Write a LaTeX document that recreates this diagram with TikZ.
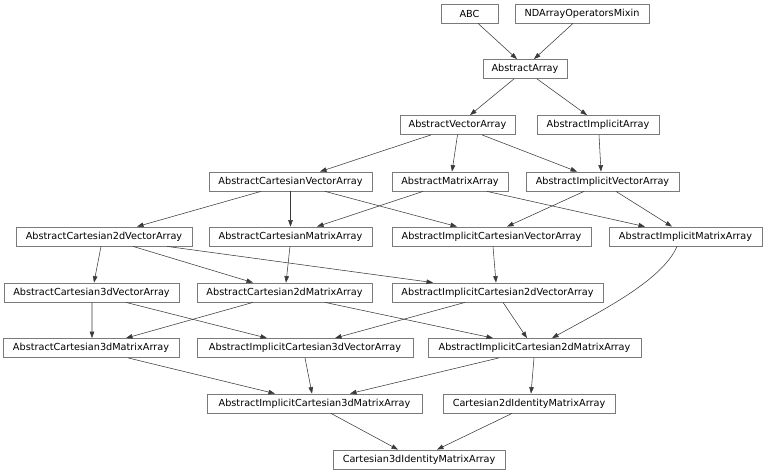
\documentclass[tikz,border=0pt]{standalone}
\usepackage{fontspec}
\setmainfont{DejaVu Sans}
\usetikzlibrary{arrows.meta}
\definecolor{boxgray}{HTML}{7A7A7A}
\definecolor{edgegray}{HTML}{3A3A3A}
\tikzset{
  cls/.style={draw=boxgray, line width=0.8bp, fill=white, inner sep=0pt, minimum height=19bp,
    font=\fontsize{9.7bp}{10bp}\selectfont, text=black},
  inh/.style={draw=edgegray, line width=0.55bp, -{Triangle[length=6.5bp,width=4.6bp]}},
}
\begin{document}
\begin{tikzpicture}[x=1bp,y=-1bp]
\useasboundingbox (0,0) rectangle (768,473);
% nodes
\node[cls, minimum width=57bp]  (abc)    at (469.5,13.5) {ABC};
\node[cls, minimum width=134bp] (ndm)    at (582,13.5)   {NDArrayOperatorsMixin};
\node[cls, minimum width=84bp]  (aa)     at (525,69)     {AbstractArray};
\node[cls, minimum width=115bp] (ava)    at (457.5,125)  {AbstractVectorArray};
\node[cls, minimum width=122bp] (aia)    at (598,125)    {AbstractImplicitArray};
\node[cls, minimum width=163bp] (acva)   at (290.5,181.5) {AbstractCartesianVectorArray};
\node[cls, minimum width=116bp] (ama)    at (450,181.5)  {AbstractMatrixArray};
\node[cls, minimum width=153bp] (aiva)   at (602.5,181.5) {AbstractImplicitVectorArray};
\node[cls, minimum width=176bp] (ac2va)  at (104,236.5)  {AbstractCartesian2dVectorArray};
\node[cls, minimum width=163bp] (acma)   at (290.5,236.5) {AbstractCartesianMatrixArray};
\node[cls, minimum width=199bp] (aicva)  at (491.5,236.5) {AbstractImplicitCartesianVectorArray};
\node[cls, minimum width=153bp] (aima)   at (685.5,236.5) {AbstractImplicitMatrixArray};
\node[cls, minimum width=175bp] (ac3va)  at (91.5,292.5) {AbstractCartesian3dVectorArray};
\node[cls, minimum width=175bp] (ac2ma)  at (284.5,292.5) {AbstractCartesian2dMatrixArray};
\node[cls, minimum width=211bp] (aic2va) at (497.5,292.5) {AbstractImplicitCartesian2dVectorArray};
\node[cls, minimum width=176bp] (ac3ma)  at (91,348)     {AbstractCartesian3dMatrixArray};
\node[cls, minimum width=216bp] (aic3va) at (305,348)    {AbstractImplicitCartesian3dVectorArray};
\node[cls, minimum width=213bp] (aic2ma) at (534.5,348)  {AbstractImplicitCartesian2dMatrixArray};
\node[cls, minimum width=215bp] (aic3ma) at (314.5,403.5) {AbstractImplicitCartesian3dMatrixArray};
\node[cls, minimum width=172bp] (c2ima)  at (529,403.5)  {Cartesian2dIdentityMatrixArray};
\node[cls, minimum width=172bp] (c3ima)  at (419,459.5)  {Cartesian3dIdentityMatrixArray};
% edges
\draw[inh] ([xshift=8.5bp]abc.south) -- ([xshift=-8bp]aa.north);
\draw[inh] ([xshift=-9bp]ndm.south) -- ([xshift=9bp]aa.north);
\draw[inh] ([xshift=-11bp]aa.south) -- ([xshift=12.5bp]ava.north);
\draw[inh] ([xshift=12bp]aa.south) -- ([xshift=-11bp]aia.north);
\draw[inh] ([xshift=-26.5bp]ava.south) -- ([xshift=29.5bp]acva.north);
\draw[inh] ([xshift=0bp]ava.south) -- ([xshift=2bp]ama.north);
\draw[inh] ([xshift=24.5bp]ava.south) -- ([xshift=-25.5bp]aiva.north);
\draw[inh] ([xshift=1bp]aia.south) -- ([xshift=-1.5bp]aiva.north);
\draw[inh] ([xshift=-29.5bp]acva.south) -- ([xshift=33bp]ac2va.north);
\draw[inh] (acva.south) -- (acma.north);
\draw[inh] ([xshift=34.5bp]acva.south) -- ([xshift=-34.5bp]aicva.north);
\draw[inh] ([xshift=-27bp]ama.south) -- ([xshift=26.5bp]acma.north);
\draw[inh] ([xshift=37bp]ama.south) -- ([xshift=-40.5bp]aima.north);
\draw[inh] ([xshift=-18.5bp]aiva.south) -- ([xshift=15.5bp]aicva.north);
\draw[inh] ([xshift=13.5bp]aiva.south) -- ([xshift=-13.5bp]aima.north);
\draw[inh] ([xshift=-3bp]ac2va.south) -- ([xshift=2.5bp]ac3va.north);
\draw[inh] ([xshift=29bp]ac2va.south) -- ([xshift=-31.5bp]ac2ma.north);
\draw[inh] ([xshift=63bp]ac2va.south) -- ([xshift=-64.5bp]aic2va.north);
\draw[inh] ([xshift=-0.5bp]acma.south) -- ([xshift=1.5bp]ac2ma.north);
\draw[inh] ([xshift=1.5bp]aicva.south) -- ([xshift=-1.5bp]aic2va.north);
\draw[inh] ([xshift=-8.5bp]aima.south) .. controls +(-15,35) and +(45,-25) .. ([xshift=17.5bp]aic2ma.north);
\draw[inh] ([xshift=0.5bp]ac3va.south) -- ([xshift=1bp]ac3ma.north);
\draw[inh] ([xshift=34.5bp]ac3va.south) -- ([xshift=-38bp]aic3va.north);
\draw[inh] ([xshift=-31.5bp]ac2ma.south) -- ([xshift=35bp]ac3ma.north);
\draw[inh] ([xshift=40.5bp]ac2ma.south) -- ([xshift=-41.5bp]aic2ma.north);
\draw[inh] ([xshift=-32.5bp]aic2va.south) -- ([xshift=30bp]aic3va.north);
\draw[inh] ([xshift=5.5bp]aic2va.south) -- ([xshift=-7.5bp]aic2ma.north);
\draw[inh] ([xshift=37bp]ac3ma.south) -- ([xshift=-39.5bp]aic3ma.north);
\draw[inh] (aic3va.south) -- ([xshift=-2.5bp]aic3ma.north);
\draw[inh] ([xshift=-35.5bp]aic2ma.south) -- ([xshift=35.5bp]aic3ma.north);
\draw[inh] ([xshift=-0.5bp]aic2ma.south) -- ([xshift=2bp]c2ima.north);
\draw[inh] ([xshift=16.5bp]aic3ma.south) -- ([xshift=-21bp]c3ima.north);
\draw[inh] ([xshift=-17bp]c2ima.south) -- ([xshift=18bp]c3ima.north);
\end{tikzpicture}
\end{document}
